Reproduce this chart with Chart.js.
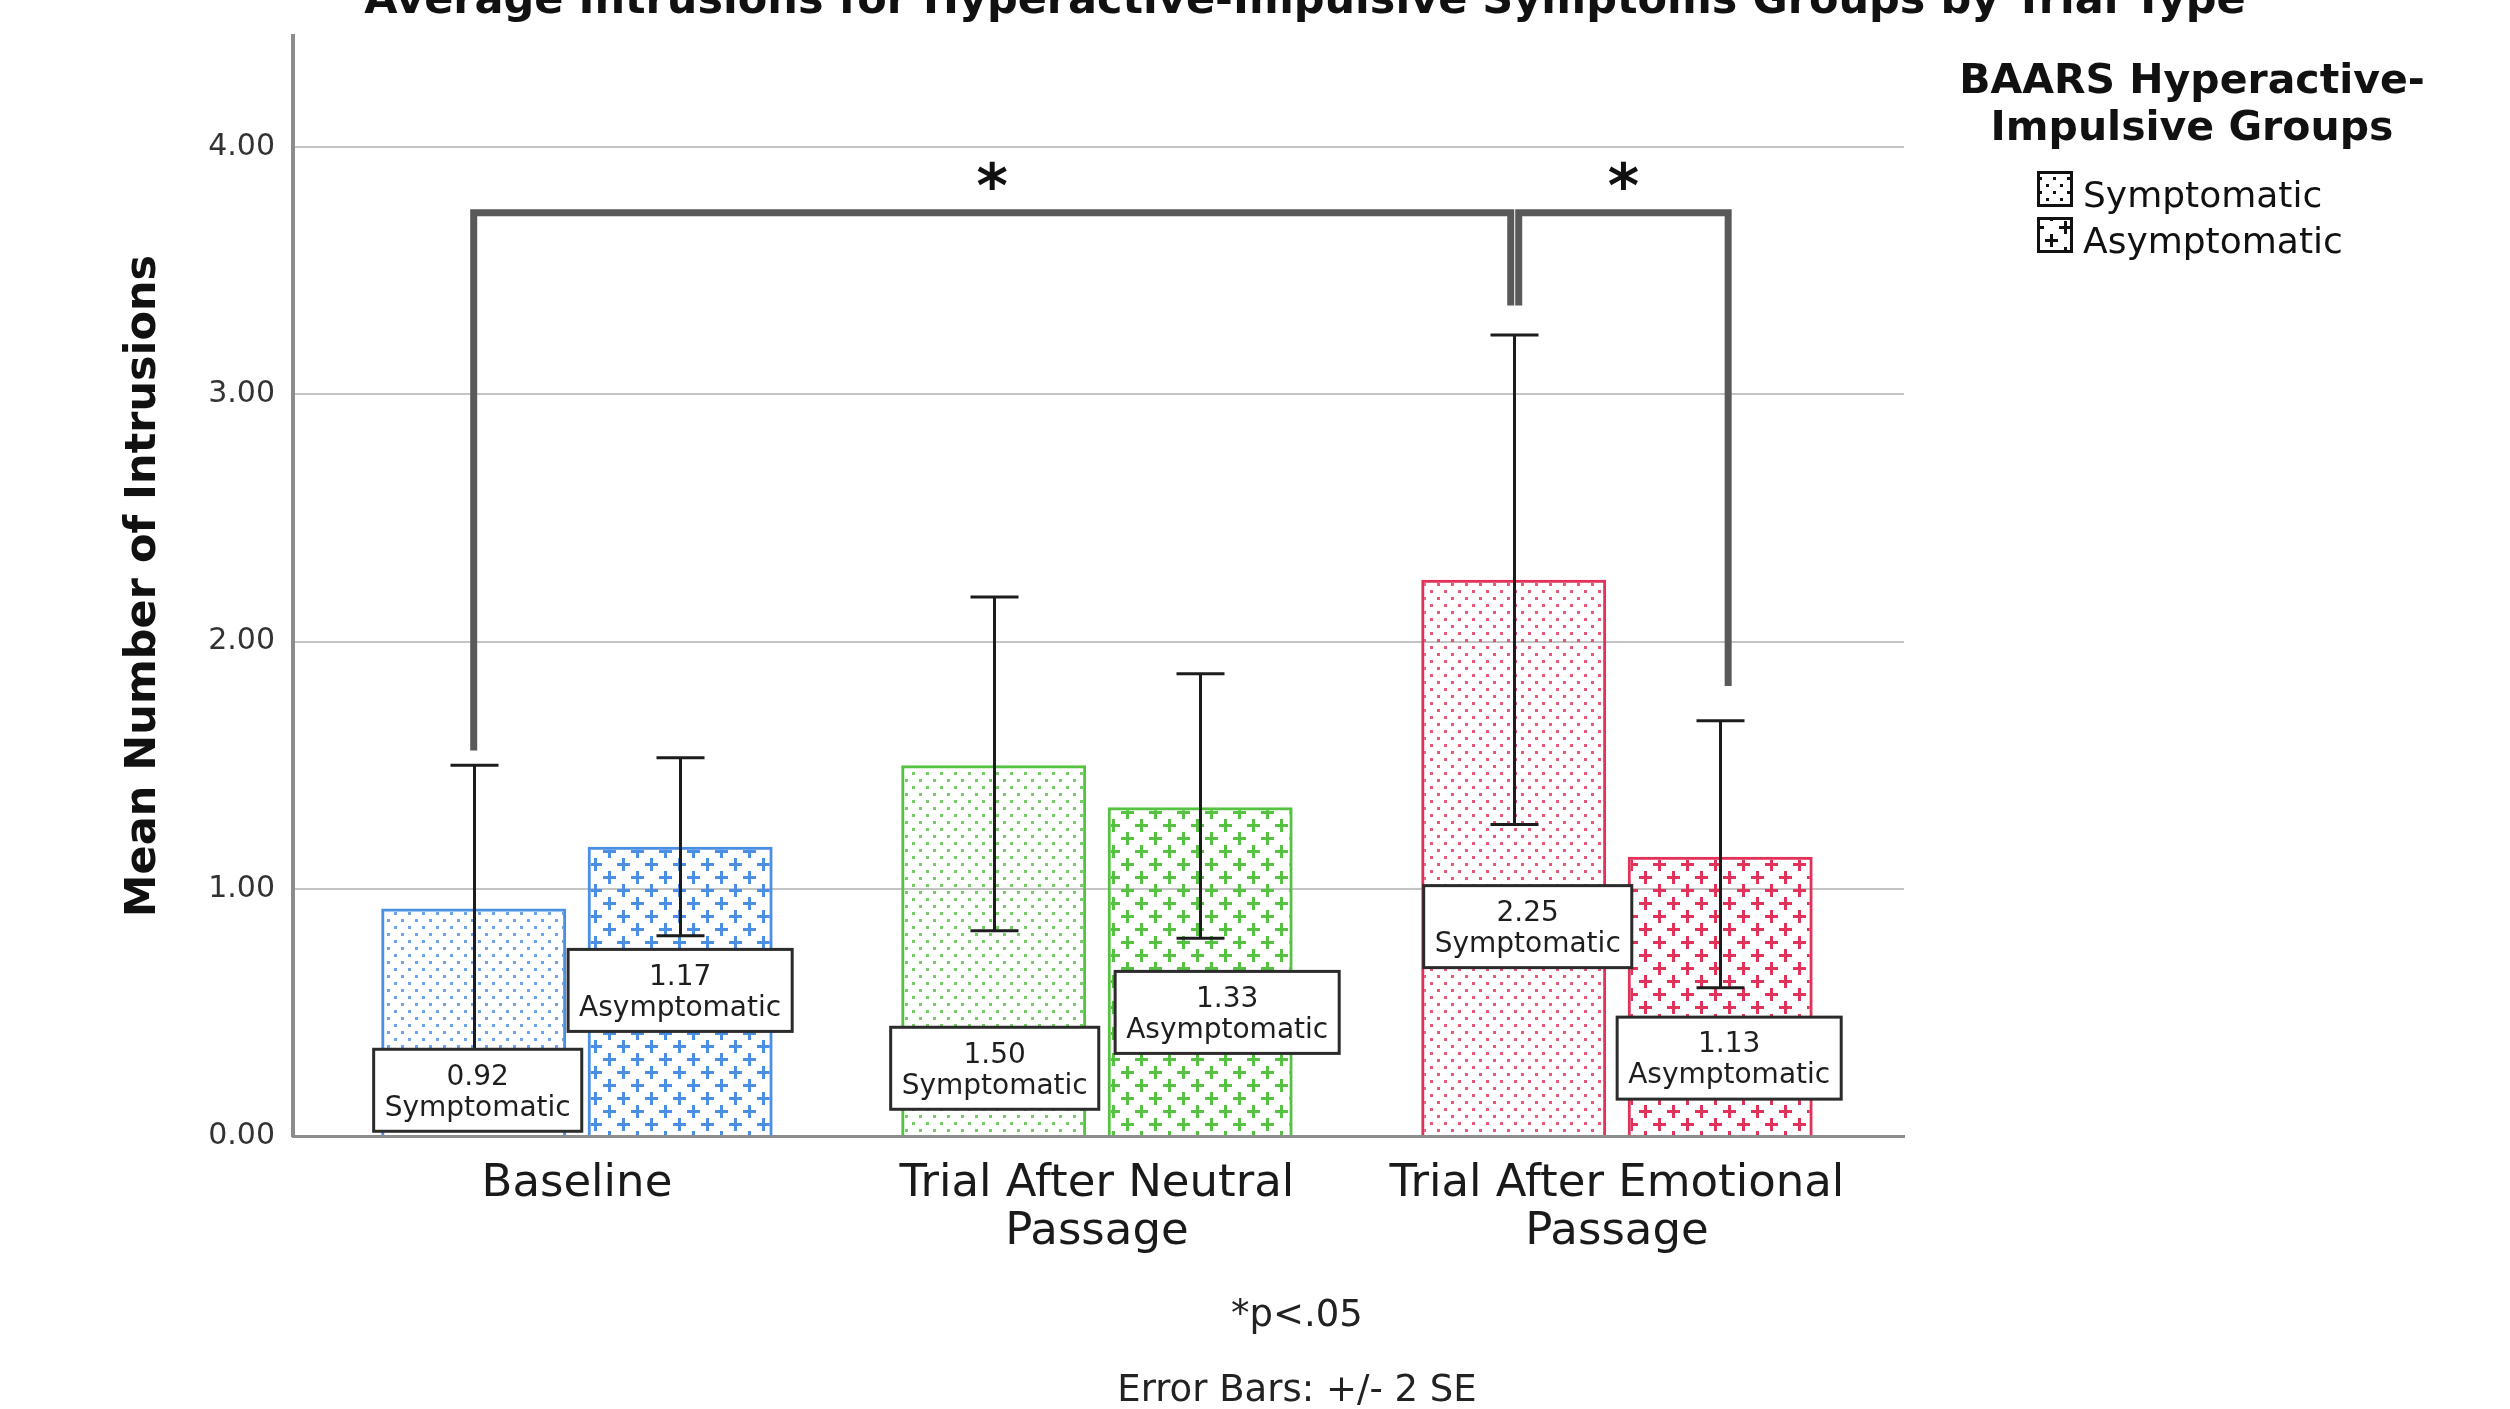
<!DOCTYPE html>
<html>
<head>
<meta charset="utf-8">
<script src="https://cdn.jsdelivr.net/npm/chart.js@4.4.1/dist/chart.umd.min.js"></script>
<style>
  html, body { margin: 0; padding: 0; background: #fff; }
  canvas { display: block; }
</style>
</head>
<body>
<canvas id="intrusionsChart" width="2510" height="1409"></canvas>
<script>
// values
const trialTypes = [["Baseline"], ["Trial After Neutral", "Passage"], ["Trial After Emotional", "Passage"]];
const groupNames = ["Symptomatic", "Asymptomatic"];
const symptomaticMeans = [0.92, 1.50, 2.25];
const asymptomaticMeans = [1.17, 1.33, 1.13];
// error bars: +/- 2 SE
const symptomaticLow = [0.35, 0.83, 1.26];
const symptomaticHigh = [1.50, 2.18, 3.24];
const asymptomaticLow = [0.81, 0.80, 0.60];
const asymptomaticHigh = [1.53, 1.87, 1.68];
const yTicks = [0, 1, 2, 3, 4];

const trialColors = ["#4a8fe3", "#55c242", "#e2325a"];
const font = "DejaVu Sans";

const canvas = document.getElementById("intrusionsChart");
const mainCtx = canvas.getContext("2d");

// fill patterns like the SPSS ones
function dotPattern(color) {
  const c = document.createElement("canvas");
  c.width = 14; c.height = 14;
  const g = c.getContext("2d");
  g.fillStyle = color;
  g.fillRect(2, 2, 3, 3);
  g.fillRect(9, 9, 3, 3);
  return mainCtx.createPattern(c, "repeat");
}
function plusPattern(color) {
  const c = document.createElement("canvas");
  c.width = 28; c.height = 26;
  const g = c.getContext("2d");
  g.fillStyle = color;
  [[7, 6], [21, 19]].forEach(([px, py]) => {
    g.fillRect(px - 6, py - 1, 13, 3);
    g.fillRect(px - 1, py - 6, 3, 13);
  });
  return mainCtx.createPattern(c, "repeat");
}

// error bars
const errorBars = {
  id: "errorBars",
  afterDatasetsDraw(chart) {
    const { ctx, scales: { y } } = chart;
    ctx.save();
    ctx.strokeStyle = "#1c1c1c";
    ctx.lineWidth = 3;
    chart.data.datasets.forEach((ds, di) => {
      chart.getDatasetMeta(di).data.forEach((bar, i) => {
        const lo = y.getPixelForValue(ds.errorLow[i]);
        const hi = y.getPixelForValue(ds.errorHigh[i]);
        const x = Math.round(bar.x) + 0.5;
        ctx.beginPath();
        ctx.moveTo(x, lo); ctx.lineTo(x, hi);
        ctx.moveTo(x - 24, hi); ctx.lineTo(x + 24, hi);
        ctx.moveTo(x - 24, lo); ctx.lineTo(x + 24, lo);
        ctx.stroke();
      });
    });
    ctx.restore();
  }
};

// significance brackets with stars
const sigBrackets = {
  id: "sigBrackets",
  afterDatasetsDraw(chart, args, opts) {
    const { ctx, scales: { y } } = chart;
    ctx.save();
    opts.brackets.forEach(b => {
      const x1 = chart.getDatasetMeta(b.from[1]).data[b.from[0]].x + b.nudge[0];
      const x2 = chart.getDatasetMeta(b.to[1]).data[b.to[0]].x + b.nudge[1];
      const yt = y.getPixelForValue(b.top);
      ctx.strokeStyle = "#595959";
      ctx.lineWidth = 7;
      ctx.lineJoin = "miter";
      ctx.beginPath();
      ctx.moveTo(x1, y.getPixelForValue(b.footFrom));
      ctx.lineTo(x1, yt);
      ctx.lineTo(x2, yt);
      ctx.lineTo(x2, y.getPixelForValue(b.footTo));
      ctx.stroke();
      // star centred above the bracket
      ctx.fillStyle = "#111";
      ctx.font = "bold 60px '" + font + "'";
      ctx.textAlign = "center";
      ctx.textBaseline = "alphabetic";
      const m = ctx.measureText("*");
      const cy = yt - 37;
      ctx.fillText("*", (x1 + x2) / 2, cy + (m.actualBoundingBoxAscent - m.actualBoundingBoxDescent) / 2);
    });
    ctx.restore();
  }
};

// white boxes with mean and group name
const valueBoxes = {
  id: "valueBoxes",
  afterDatasetsDraw(chart, args, opts) {
    const { ctx, scales: { y } } = chart;
    ctx.save();
    ctx.font = "28px '" + font + "'";
    ctx.textAlign = "center";
    ctx.textBaseline = "middle";
    chart.data.datasets.forEach((ds, di) => {
      chart.getDatasetMeta(di).data.forEach((bar, i) => {
        const line1 = ds.data[i].y.toFixed(2);
        const line2 = ds.label;
        const cx = bar.x + opts.dx[di][i];
        const cy = y.getPixelForValue(opts.centers[di][i]);
        const w = Math.max(ctx.measureText(line1).width, ctx.measureText(line2).width) + 22;
        const h = 82;
        ctx.fillStyle = "#fff";
        ctx.fillRect(cx - w / 2, cy - h / 2, w, h);
        ctx.strokeStyle = "#2b2b2b";
        ctx.lineWidth = 3;
        ctx.strokeRect(cx - w / 2, cy - h / 2, w, h);
        ctx.fillStyle = "#1e1e1e";
        ctx.fillText(line1, cx, cy - 13);
        ctx.fillText(line2, cx, cy + 18);
      });
    });
    ctx.restore();
  }
};

// title (cut at the top edge), legend and footnotes
const chartText = {
  id: "chartText",
  afterDraw(chart) {
    const ctx = chart.ctx;
    ctx.save();
    ctx.fillStyle = "#111";
    ctx.textAlign = "center";
    ctx.textBaseline = "alphabetic";
    ctx.font = "bold 43px '" + font + "'";
    ctx.fillText("Average Intrusions for Hyperactive-Impulsive Symptoms Groups by Trial Type", 1305, 13);

    ctx.font = "bold 41px '" + font + "'";
    ctx.fillText("BAARS Hyperactive-", 2192, 93);
    ctx.fillText("Impulsive Groups", 2192, 140);

    const swatches = [dotPattern("#111"), plusPattern("#111")];
    ctx.textAlign = "left";
    ctx.font = "36px '" + font + "'";
    groupNames.forEach((name, i) => {
      const top = 171 + i * 46;
      ctx.fillStyle = "#fff";
      ctx.fillRect(2037, top, 36, 36);
      ctx.fillStyle = swatches[i];
      ctx.fillRect(2037, top, 36, 36);
      ctx.strokeStyle = "#111";
      ctx.lineWidth = 3;
      ctx.strokeRect(2038.5, top + 1.5, 33, 33);
      ctx.fillStyle = "#111";
      ctx.fillText(name, 2083, top + 36);
    });

    ctx.textAlign = "center";
    ctx.fillStyle = "#222";
    ctx.font = "37px '" + font + "'";
    ctx.fillText("*p<.05", 1297, 1326);
    ctx.fillText("Error Bars: +/- 2 SE", 1297, 1401);
    ctx.restore();
  }
};

new Chart(canvas, {
  type: "bar",
  data: {
    datasets: [
      {
        label: groupNames[0],
        data: symptomaticMeans.map((v, i) => ({ x: i, y: v })),
        errorLow: symptomaticLow,
        errorHigh: symptomaticHigh,
        backgroundColor: trialColors.map(c => dotPattern(c + "d0")),
        borderColor: trialColors,
        borderWidth: 3,
        categoryPercentage: 0.794,
        barPercentage: 0.896
      },
      {
        label: groupNames[1],
        data: asymptomaticMeans.map((v, i) => ({ x: i, y: v })),
        errorLow: asymptomaticLow,
        errorHigh: asymptomaticHigh,
        backgroundColor: trialColors.map(c => plusPattern(c)),
        borderColor: trialColors,
        borderWidth: 3,
        categoryPercentage: 0.794,
        barPercentage: 0.896
      }
    ]
  },
  options: {
    responsive: false,
    animation: false,
    devicePixelRatio: 1,
    layout: { padding: { top: 32, right: 606, left: 0, bottom: 0 } },
    plugins: {
      legend: { display: false },
      tooltip: { enabled: false },
      sigBrackets: {
        brackets: [
          { from: [0, 0], to: [2, 0], top: 3.735, footFrom: 1.56, footTo: 3.36, nudge: [0, -3] },
          { from: [2, 0], to: [2, 1], top: 3.735, footFrom: 3.36, footTo: 1.82, nudge: [5, 8] }
        ]
      },
      valueBoxes: {
        centers: [[0.185, 0.274, 0.847], [0.589, 0.50, 0.315]],
        dx: [[4, 1, 14], [0, 27, 9]]
      }
    },
    scales: {
      x: {
        type: "linear",
        min: -0.546,
        max: 2.552,
        offset: false,
        grid: { display: false },
        border: { display: true, color: "#8c8c8c", width: 3 },
        afterBuildTicks: s => { s.ticks = trialTypes.map((_, i) => ({ value: i })); },
        afterFit: s => { s.height = 273; },
        ticks: {
          autoSkip: false,
          maxRotation: 0,
          padding: 16,
          color: "#1a1a1a",
          font: { family: font, size: 45, lineHeight: 1.07 },
          callback: v => trialTypes[v]
        }
      },
      y: {
        min: 0,
        max: 4.45,
        afterBuildTicks: s => { s.ticks = yTicks.map(v => ({ value: v })); },
        afterFit: s => { s.width = 293; },
        grid: { color: "#c4c4c4", lineWidth: 2, drawTicks: false },
        border: { color: "#8c8c8c", width: 4 },
        ticks: {
          padding: 18,
          color: "#333",
          font: { family: font, size: 30 },
          callback: v => v.toFixed(2)
        },
        title: {
          display: true,
          text: "Mean Number of Intrusions",
          color: "#111",
          font: { family: font, size: 43, weight: "bold", lineHeight: 1.2 },
          padding: { top: 118, bottom: 0 }
        }
      }
    }
  },
  plugins: [errorBars, sigBrackets, valueBoxes, chartText]
});
</script>
</body>
</html>
